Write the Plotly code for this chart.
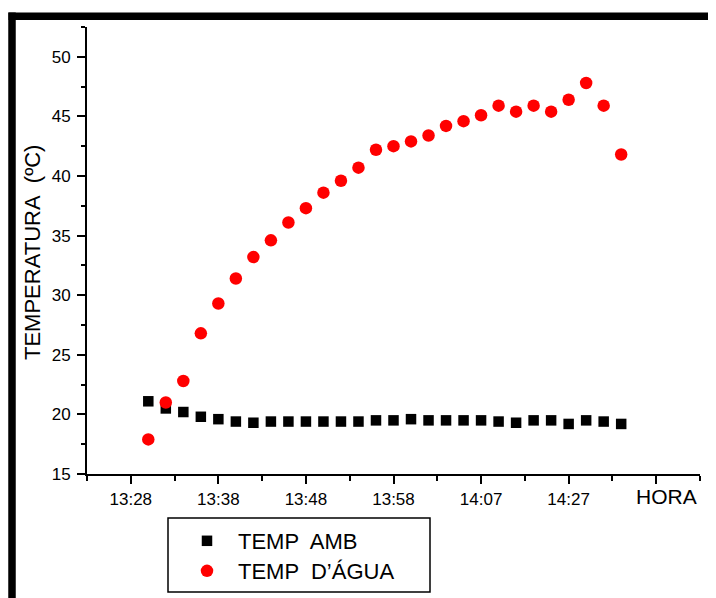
import plotly.graph_objects as go

# ---- data ----
sample_index = list(range(28))
temp_amb = [21.1, 20.5, 20.2, 19.8, 19.6, 19.4, 19.3, 19.4, 19.4, 19.4, 19.4, 19.4,
            19.4, 19.5, 19.5, 19.6, 19.5, 19.5, 19.5, 19.5, 19.4, 19.3, 19.5, 19.5,
            19.2, 19.5, 19.4, 19.2]
temp_agua = [17.9, 21.0, 22.8, 26.8, 29.3, 31.4, 33.2, 34.6, 36.1, 37.3, 38.6, 39.6,
             40.7, 42.2, 42.5, 42.9, 43.4, 44.2, 44.6, 45.1, 45.9, 45.4, 45.9, 45.4,
             46.4, 47.8, 45.9, 41.8]
x_tick_vals = [-1, 4, 9, 14, 19, 24]
x_tick_text = ["13:28", "13:38", "13:48", "13:58", "14:07", "14:27"]
x_title_pos = 29
y_tick_vals = [15, 20, 25, 30, 35, 40, 45, 50]

# page is rendered with an 8px body margin; work in page pixels
OFF = 8
PAGE_W, PAGE_H = 716, 598
W, H = PAGE_W - OFF, PAGE_H - OFF
AX_L, AX_R, AX_T, AX_B = 87, 700, 27, 474   # plot area in page pixels
L, R, T, B = AX_L - OFF, PAGE_W - AX_R, AX_T - OFF, PAGE_H - AX_B
PW, PH = W - L - R, H - T - B

def px(x):
    return (x - OFF - L) / PW

def py(y):
    return (H - B - (y - OFF)) / PH

FONT = "Liberation Sans, Arial, sans-serif"

fig = go.Figure()
fig.add_trace(go.Scatter(
    x=sample_index, y=temp_amb, mode="markers", name="TEMP  AMB",
    marker=dict(symbol="square", size=10.5, color="#000000"),
    legend="legend",
))
fig.add_trace(go.Scatter(
    x=sample_index, y=temp_agua, mode="markers", name="TEMP  D\u2019\u00c1GUA",
    marker=dict(symbol="circle", size=12.5, color="#ff0000"),
    legend="legend2",
))

axis_common = dict(
    showline=True, linecolor="black", linewidth=2, mirror=False,
    showgrid=False, zeroline=False,
    ticks="outside", ticklen=8, tickwidth=2, tickcolor="black",
    tickfont=dict(family=FONT, size=17, color="black"),
)

fig.update_xaxes(
    range=[-3.5, 31.5], tickmode="array",
    tickvals=x_tick_vals + [x_title_pos], ticktext=x_tick_text + [""],
    minor=dict(tickmode="linear", tick0=-3.5, dtick=2.5, ticks="outside",
               ticklen=5, tickwidth=2, tickcolor="black"),
    ticklabelstandoff=1,
    **axis_common,
)
fig.update_yaxes(
    range=[15, 52.5], tickmode="array", tickvals=y_tick_vals,
    minor=dict(tickmode="linear", tick0=15, dtick=2.5, ticks="outside",
               ticklen=4, tickwidth=2, tickcolor="black"),
    ticklabelstandoff=3,
    **axis_common,
)

fig.add_annotation(
    x=px(666), xref="paper", y=py(497), yref="paper",
    text="HORA", showarrow=False, xanchor="center", yanchor="middle",
    font=dict(family=FONT, size=21, color="black"),
)
fig.add_annotation(
    x=px(32), xref="paper", y=py(253), yref="paper",
    text="TEMPERATURA\u00a0\u00a0(\u00baC)", textangle=-90, showarrow=False,
    xanchor="center", yanchor="middle",
    font=dict(family=FONT, size=22, color="black"),
)

# thick outer frame (top and left edges)
fig.add_shape(type="line", xref="paper", yref="paper",
              x0=px(8.5), x1=px(716), y0=py(16.3), y1=py(16.3),
              line=dict(color="black", width=7.5))
fig.add_shape(type="line", xref="paper", yref="paper",
              x0=px(12), x1=px(12), y0=py(12.6), y1=py(598),
              line=dict(color="black", width=7.5))

# legend frame
fig.add_shape(type="rect", xref="paper", yref="paper",
              x0=px(168), x1=px(430), y0=py(518), y1=py(592),
              line=dict(color="black", width=1.5), fillcolor="rgba(0,0,0,0)")

legend_common = dict(
    xanchor="left", yanchor="middle", borderwidth=0, bgcolor="rgba(0,0,0,0)",
    font=dict(family=FONT, size=22, color="black"), itemwidth=52,
)

fig.update_layout(
    width=W, height=H,
    margin=dict(l=L, r=R, t=T, b=B, autoexpand=False),
    paper_bgcolor="white", plot_bgcolor="white",
    showlegend=True,
    legend=dict(x=px(176), y=py(541), **legend_common),
    legend2=dict(x=px(176), y=py(571), **legend_common),
)

fig.write_html("out.html")
